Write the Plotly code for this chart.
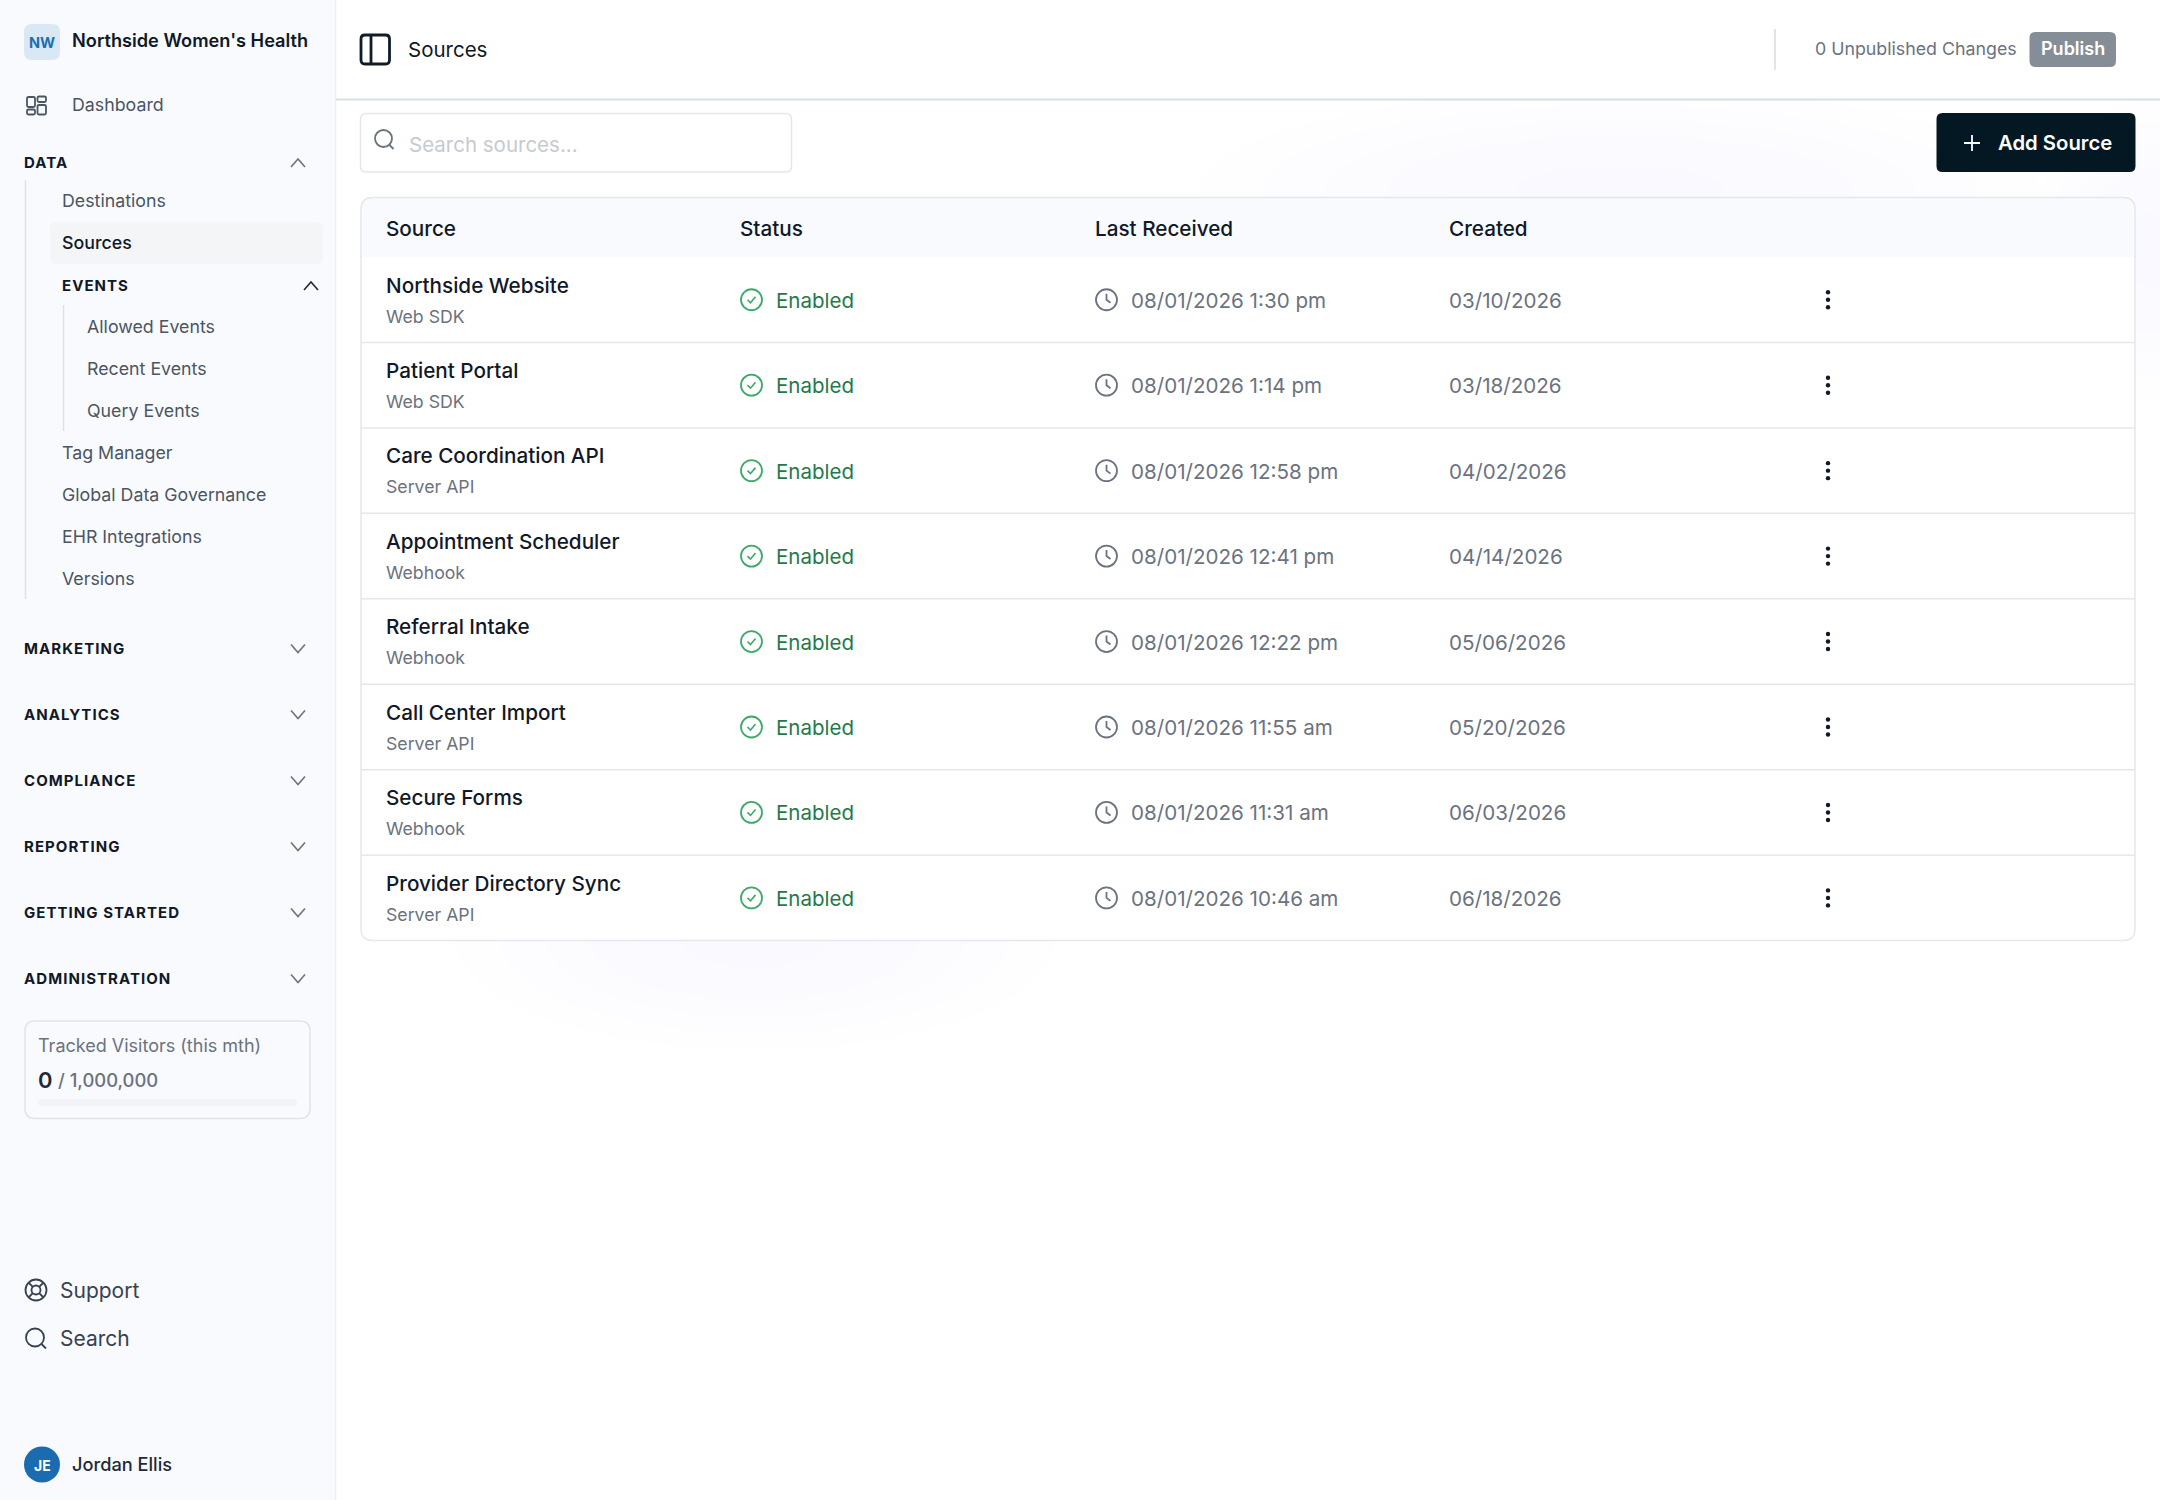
import plotly.graph_objects as go

# table content
source_names = ["Northside Website", "Patient Portal", "Care Coordination API", "Appointment Scheduler",
                "Referral Intake", "Call Center Import", "Secure Forms", "Provider Directory Sync"]
source_types = ["Web SDK", "Web SDK", "Server API", "Webhook", "Webhook", "Server API", "Webhook", "Server API"]
statuses = ["Enabled"] * 8
last_received = ["08/01/2026 1:30 pm", "08/01/2026 1:14 pm", "08/01/2026 12:58 pm", "08/01/2026 12:41 pm",
                 "08/01/2026 12:22 pm", "08/01/2026 11:55 am", "08/01/2026 11:31 am", "08/01/2026 10:46 am"]
created = ["03/10/2026", "03/18/2026", "04/02/2026", "04/14/2026", "05/06/2026", "05/20/2026", "06/03/2026", "06/18/2026"]
columns = ["Source", "Status", "Last Received", "Created"]

# sidebar content
data_items = ["Destinations", "Sources"]
event_items = ["Allowed Events", "Recent Events", "Query Events"]
more_items = ["Tag Manager", "Global Data Governance", "EHR Integrations", "Versions"]
closed_sections = ["MARKETING", "ANALYTICS", "COMPLIANCE", "REPORTING", "GETTING STARTED", "ADMINISTRATION"]
open_sections = ["DATA", "EVENTS"]

FONT = "Inter"
INK = "#111827"
GREY = "#6b7280"
NAV = "#4b5563"
LINE = "#e4e7eb"
SIDE_BG = "#f8fafe"

shapes = []
annotations = []


def label(x, y, text, size=18, color=INK, weight=400, anchor="left"):
    if anchor == "left":
        x -= 1.4  # annotation box sits a bit to the right of x
    annotations.append(dict(x=x, y=y, xref="x", yref="y", text=text, showarrow=False, xanchor=anchor,
                            yanchor="middle", align=anchor, borderpad=0,
                            font=dict(family=FONT, size=size, color=color, weight=weight)))


def box(x0, y0, x1, y1, r=0, fill="rgba(0,0,0,0)", line=None, width=1.5):
    path = (f"M{x0+r},{y0} L{x1-r},{y0} Q{x1},{y0} {x1},{y0+r} L{x1},{y1-r} Q{x1},{y1} {x1-r},{y1} "
            f"L{x0+r},{y1} Q{x0},{y1} {x0},{y1-r} L{x0},{y0+r} Q{x0},{y0} {x0+r},{y0} Z")
    shapes.append(dict(type="path", path=path, xref="x", yref="y", fillcolor=fill,
                       line=dict(color=line or "rgba(0,0,0,0)", width=width if line else 0)))


def stroke(path, color=NAV, width=1.8):
    shapes.append(dict(type="path", path=path, xref="x", yref="y", line=dict(color=color, width=width)))


def circle(cx, cy, r, fill="rgba(0,0,0,0)", line=None, width=1.8):
    shapes.append(dict(type="circle", xref="x", yref="y", x0=cx-r, x1=cx+r, y0=cy-r, y1=cy+r, fillcolor=fill,
                       line=dict(color=line or "rgba(0,0,0,0)", width=width if line else 0)))


def chevron(cx, cy, up=False, color=GREY):
    d = -4 if up else 4
    stroke(f"M{cx-7},{cy-d} L{cx},{cy+d} L{cx+7},{cy-d}", color, 1.6)


def section(y, text, x=24.5, chev_x=298, up=False, chev_color=GREY):
    label(x, y - 0.4, text, size=15, color=INK, weight=700)
    chevron(chev_x, y, up, chev_color)


def glow(cx, cy, rx, ry):
    # soft tint behind the page, stacked ellipses
    for k in (1.0, 0.85, 0.7, 0.55, 0.4, 0.25):
        shapes.append(dict(type="circle", xref="x", yref="y", x0=cx-rx*k, x1=cx+rx*k, y0=cy-ry*k, y1=cy+ry*k,
                           fillcolor="rgba(232,240,252,0.035)", line=dict(width=0)))


# faint background tint
glow(1620, 190, 420, 100)
glow(2150, 250, 120, 150)
glow(755, 940, 300, 110)
box(336, 0, 2160, 99, fill="#ffffff")

# sidebar
box(0, 0, 335, 1500, fill=SIDE_BG)
stroke("M335.5,0 L335.5,1500", "#eceff3", 1.5)
box(24, 24, 60, 60, r=8, fill="#d8e8f5")
label(42, 42, "NW", size=14.5, color="#1d6fb4", weight=700, anchor="center")
label(72.5, 40, "Northside Women's Health", size=18.2, color=INK, weight=600)

for bx0, by0, bx1, by1 in [(27, 97, 35, 107), (27, 109.5, 35, 114.5), (37.5, 96.5, 46, 102), (37.5, 105, 46, 114.5)]:
    box(bx0, by0, bx1, by1, r=1.5, line=NAV, width=1.8)
label(72.5, 104.4, "Dashboard", size=17.8, color=NAV)

section(163, open_sections[0], up=True)
stroke("M25.5,180 L25.5,599", "#dde2e8", 1.5)
label(62, 200.4, data_items[0], size=17.8, color=NAV)
box(50, 222, 323, 264, r=6, fill="#f4f5f7")
label(62, 242.4, data_items[1], size=17.8, color=INK, weight=500)
section(286, open_sections[1], x=62, chev_x=311, up=True, chev_color="#1f2937")
stroke("M63.5,305 L63.5,431", "#dde2e8", 1.5)
for i, item in enumerate(event_items):
    label(87, 326.4 + 42 * i, item, size=17.8, color=NAV)
for i, item in enumerate(more_items):
    label(62, 452 + 42 * i, item, size=17.8, color=NAV)
for i, item in enumerate(closed_sections):
    section(648.5 + 66 * i, item)

box(25, 1021, 310, 1118.5, r=10, line="#dfe4ea")
label(38, 1045, "Tracked Visitors (this mth)", size=18, color=GREY)
label(38, 1079.5, "0", size=22, color="#1f2937", weight=600)
label(58, 1080, "/ 1,000,000", size=18.4, color=GREY, weight=500)
box(38, 1099, 297, 1106, r=3.5, fill="#f1f3f6")

circle(36, 1290, 10.5, line="#374151")
circle(36, 1290, 4.5, line="#374151")
stroke("M28.5,1282.5 L32.8,1286.8 M43.5,1282.5 L39.2,1286.8 M28.5,1297.5 L32.8,1293.2 M43.5,1297.5 L39.2,1293.2", "#374151")
label(60, 1290, "Support", size=21, color="#374151")
circle(35, 1337.5, 9, line="#374151")
stroke("M41.5,1344 L46,1348.5", "#374151")
label(60, 1338, "Search", size=21, color="#374151")

circle(42, 1464.5, 18, fill="#1a6bb0")
label(42, 1465, "JE", size=14, color="#ffffff", weight=700, anchor="center")
label(72, 1463.5, "Jordan Ellis", size=18.2, color="#1f2937", weight=500)

# top bar
stroke("M336,99.5 L2160,99.5", "#d9dfe5", 2)
box(361, 35, 389.5, 64, r=4, line="#0f1c2a", width=2.8)
stroke("M371,35 L371,64", "#0f1c2a", 2.8)
label(408, 49.5, "Sources", size=20.5, color=INK)
stroke("M1775,29 L1775,70", "#d9dce1", 1.5)
label(1815, 48.5, "0 Unpublished Changes", size=17.8, color=GREY)
box(2029.5, 32, 2116, 67, r=6, fill="#858e97")
label(2072.5, 48.5, "Publish", size=18, color="#ffffff", weight=600, anchor="center")

# search and button
box(360.5, 113.5, 791.5, 172, r=6, fill="#ffffff", line=LINE)
circle(383.5, 138.5, 8.5, line=GREY)
stroke("M389.5,145 L393.5,149", GREY)
label(409, 144, "Search sources...", size=20.5, color="#c6cad1")
box(1936.5, 113, 2135.5, 172, r=6, fill="#041824")
stroke("M1972,135 L1972,151 M1964,143 L1980,143", "#ffffff", 1.8)
label(1998, 142.5, "Add Source", size=20.3, color="#ffffff", weight=600)

# table
col_x = [386, 740, 1095, 1449]
head_top, head_bottom, row_h = 197.5, 257, 85.45
box(361, head_top, 2135, head_bottom + row_h * len(source_names), r=12, fill="#ffffff")
box(361, head_top, 2135, head_bottom + 4, r=8, fill="#f8fafd")
box(361, head_bottom, 2135, head_bottom + 8, fill="#ffffff")
box(361, head_top, 2135, head_bottom + row_h * len(source_names), r=12, line=LINE)
for x, col in zip(col_x, columns):
    label(x, 228, col, size=20.7, color=INK, weight=500)

for i in range(len(source_names)):
    top = head_bottom + row_h * i
    mid = top + row_h / 2
    if i > 0:
        stroke(f"M361,{top} L2135,{top}", LINE, 1.5)
    label(col_x[0], top + 28, source_names[i], size=20.7, color=INK, weight=500)
    label(col_x[0], top + 59, source_types[i], size=17.7, color=GREY)
    circle(751.5, mid, 10.5, line="#3aab6b")
    stroke(f"M747.5,{mid} L750.5,{mid+3} L755.5,{mid-3}", "#3aab6b", 1.6)
    label(776, mid + 0.5, statuses[i], size=20.5, color="#1f7a4a")
    circle(1106.5, mid, 10.5, line=GREY)
    stroke(f"M1106.5,{mid-6} L1106.5,{mid} L1110.5,{mid+3}", GREY)
    label(1131, mid + 0.5, last_received[i], size=20.6, color=GREY)
    label(col_x[3], mid + 0.5, created[i], size=20.6, color=GREY)
    for dy in (-7.5, 0, 7.5):
        circle(1828, mid + dy, 2.2, fill="#111827")

fig = go.Figure()
fig.update_layout(
    width=2160, height=1500,
    margin=dict(l=0, r=0, t=0, b=0),
    paper_bgcolor="#ffffff", plot_bgcolor="#ffffff",
    showlegend=False,
    shapes=shapes, annotations=annotations,
    xaxis=dict(range=[0, 2160], visible=False, fixedrange=True),
    yaxis=dict(range=[1500, 0], visible=False, fixedrange=True),
)

# plotly has no letter spacing, so add it for the section headings with a stylesheet
spaced = ",".join(f'.annotation-text[data-unformatted="{s}"]' for s in open_sections + closed_sections)
post = ("document.body.style.margin='0';var s=document.createElement('style');s.textContent='"
        + spaced.replace('"', '\\"') + "{letter-spacing:1.05px}';document.head.appendChild(s);")
fig.write_html("out.html", post_script=post, config=dict(displayModeBar=False))
